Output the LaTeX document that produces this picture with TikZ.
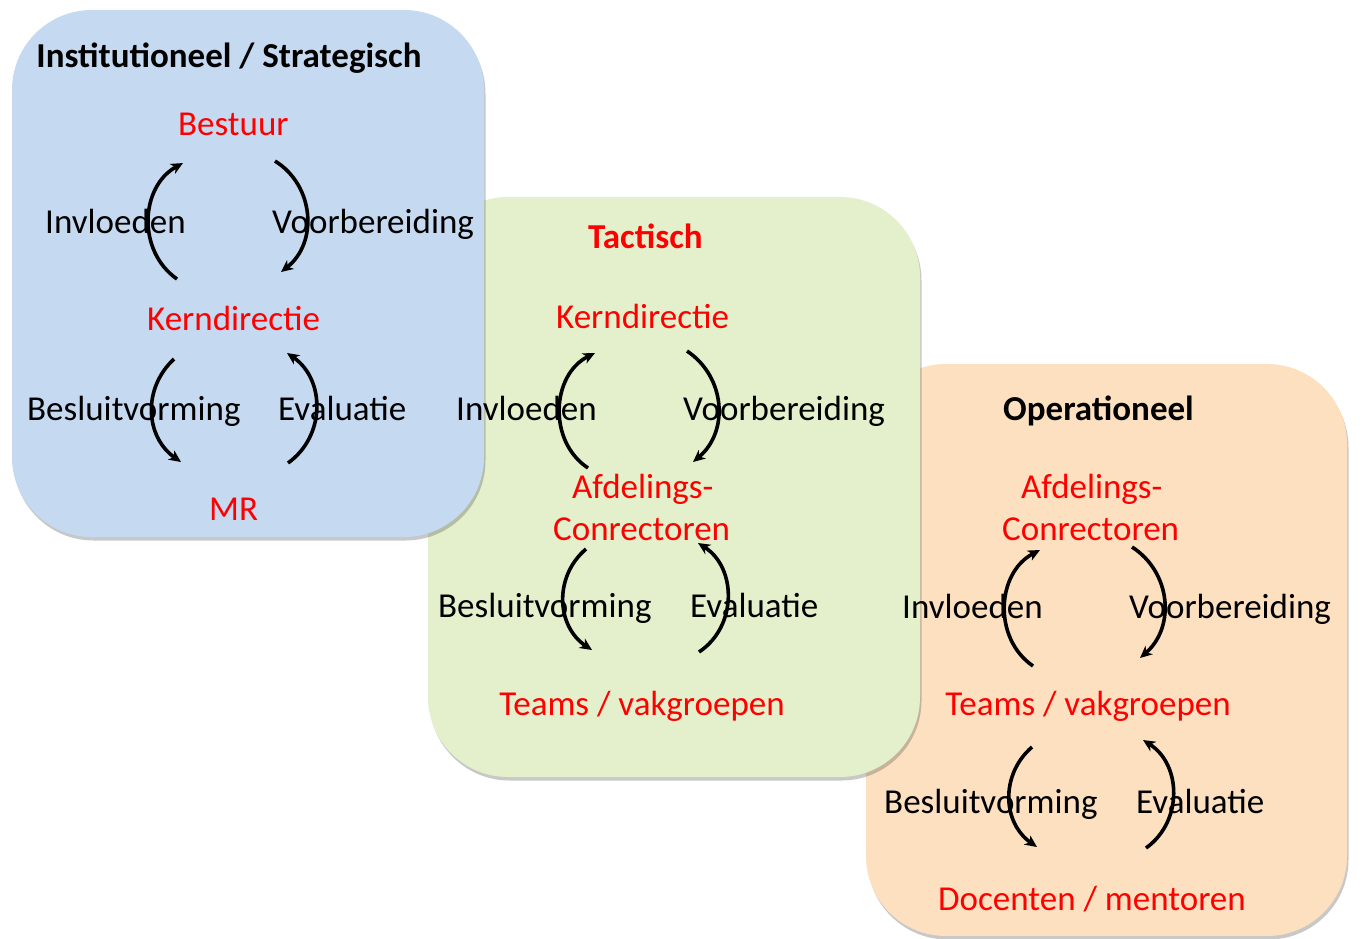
\documentclass[tikz,border=0pt]{standalone}
\usepackage{fontspec}
\setmainfont{Carlito}
\usetikzlibrary{arrows.meta,shadows}
\definecolor{boxblue}{RGB}{197,217,241}
\definecolor{boxgreen}{RGB}{227,240,203}
\definecolor{boxorange}{RGB}{253,224,191}
\definecolor{txtred}{RGB}{255,0,0}
\begin{document}
\begin{tikzpicture}[x=1pt,y=1pt,
  panel/.style={rectangle, rounded corners=80pt, inner sep=0pt,
    drop shadow={shadow xshift=1.5pt, shadow yshift=-3.5pt, opacity=0.3, fill=black!70}},
  lbl/.style={inner sep=0pt, anchor=base west, font=\fontsize{35}{42}\selectfont},
  lvl/.style={lbl, text=txtred},
  ttl/.style={lbl, font=\fontsize{35}{42}\selectfont\bfseries},
  flow/.style={line width=3.6pt, -{Stealth[length=12pt,width=11pt,inset=3.5pt]}, looseness=1.08}
]
\useasboundingbox (0,0) rectangle (1368,-938);
\fill[white] (0,0) rectangle (1368,-938);

% panels
\node[panel, fill=boxorange, minimum width=481pt, minimum height=572pt] (orange) at (1106.5,-650) {};
\node[panel, fill=boxgreen, minimum width=492pt, minimum height=580pt] (green) at (674,-487) {};
\node[panel, fill=boxblue, minimum width=472pt, minimum height=527pt] (blue) at (248,-273.5) {};

% ---------- blue panel ----------
\node[ttl, anchor=base] (btitle) at (229,-67) {Institutioneel / Strategisch};
\node[lvl] (bbest) at (178,-135) {Bestuur};
\node[lbl] (binv) at (45,-233) {Invloeden};
\node[lbl] (bvoor) at (272,-233) {Voorbereiding};
\node[lvl] (bkern) at (147,-330) {Kerndirectie};
\node[lbl] (bbes) at (27,-420) {Besluitvorming};
\node[lbl] (beval) at (278,-420) {Evaluatie};
\node[lvl] (bmr) at (209,-520) {MR};

\coordinate (b1s) at (177,-279); \coordinate (b1e) at (183,-163);
\coordinate (b2s) at (275,-161); \coordinate (b2e) at (281,-272);
\coordinate (b3s) at (174,-359); \coordinate (b3e) at (181,-462);
\coordinate (b4s) at (288,-463); \coordinate (b4e) at (287,-353);
\draw[flow] (b1s) to[bend left=58] (b1e);
\draw[flow] (b2s) to[bend left=55] (b2e);
\draw[flow] (b3s) to[bend right=51] (b3e);
\draw[flow] (b4s) to[bend right=55] (b4e);

% ---------- green panel ----------
\node[ttl, text=txtred] (gtitle) at (588,-248) {Tactisch};
\node[lvl] (gkern) at (556,-328) {Kerndirectie};
\node[lbl] (ginv) at (456,-420) {Invloeden};
\node[lbl] (gvoor) at (683,-420) {Voorbereiding};
\node[lvl] (gafd) at (572,-498) {Afdelings-};
\node[lvl] (gcon) at (553,-540) {Conrectoren};
\node[lbl] (gbes) at (438,-617) {Besluitvorming};
\node[lbl] (geval) at (690,-617) {Evaluatie};
\node[lvl, anchor=base] (gteam) at (642,-715) {Teams / vakgroepen};

\coordinate (g1s) at (588,-468); \coordinate (g1e) at (595,-353);
\coordinate (g2s) at (687,-351); \coordinate (g2e) at (693,-462);
\coordinate (g3s) at (586,-549); \coordinate (g3e) at (592,-650);
\coordinate (g4s) at (699,-652); \coordinate (g4e) at (698,-543);
\draw[flow] (g1s) to[bend left=60] (g1e);
\draw[flow] (g2s) to[bend left=53] (g2e);
\draw[flow] (g3s) to[bend right=53] (g3e);
\draw[flow] (g4s) to[bend right=57] (g4e);

% ---------- orange panel ----------
\node[ttl] (otitle) at (1003,-420) {Operationeel};
\node[lvl] (oafd) at (1021,-498) {Afdelings-};
\node[lvl] (ocon) at (1002,-540) {Conrectoren};
\node[lbl] (oinv) at (902,-618) {Invloeden};
\node[lbl] (ovoor) at (1129,-618) {Voorbereiding};
\node[lvl, anchor=base] (oteam) at (1088,-715) {Teams / vakgroepen};
\node[lbl] (obes) at (884,-813) {Besluitvorming};
\node[lbl] (oeval) at (1136,-813) {Evaluatie};
\node[lvl, anchor=base] (odoc) at (1092,-910) {Docenten / mentoren};

\coordinate (o1s) at (1033,-666); \coordinate (o1e) at (1040,-550);
\coordinate (o2s) at (1132,-547); \coordinate (o2e) at (1140,-658);
\coordinate (o3s) at (1032,-747); \coordinate (o3e) at (1037,-847);
\coordinate (o4s) at (1146,-848); \coordinate (o4e) at (1143,-740);
\draw[flow] (o1s) to[bend left=59] (o1e);
\draw[flow] (o2s) to[bend left=53] (o2e);
\draw[flow] (o3s) to[bend right=52] (o3e);
\draw[flow] (o4s) to[bend right=56] (o4e);
\end{tikzpicture}
\end{document}
